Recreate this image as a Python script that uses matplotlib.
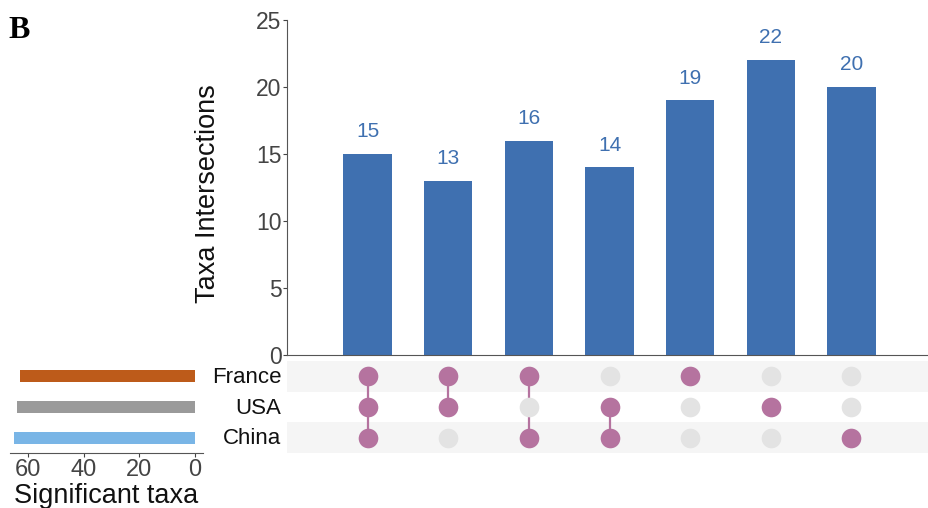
import numpy as np
import matplotlib.pyplot as plt

plt.rcParams['font.family'] = ['Liberation Sans', 'DejaVu Sans']

# data
sets = ["France", "USA", "China"]
set_sizes = [63, 64, 65]
set_colors = ["#bd5b1a", "#9a9a9a", "#79b5e6"]

counts = [15, 13, 16, 14, 19, 22, 20]
# membership per intersection: France, USA, China
membership = [
    [1, 1, 1],
    [1, 1, 0],
    [1, 0, 1],
    [0, 1, 1],
    [1, 0, 0],
    [0, 1, 0],
    [0, 0, 1],
]

bar_color = "#3f70b0"
dot_on = "#b5739f"
dot_off = "#e3e3e3"
axis_gray = "#555555"
W, H = 929, 508

fig = plt.figure(figsize=(9.29, 5.08), dpi=100)


def box(x0, y0, x1, y1):
    return [x0 / W, 1 - y1 / H, (x1 - x0) / W, (y1 - y0) / H]


n = len(counts)
xs = np.arange(n)

# intersection bars
ax = fig.add_axes(box(287, 20, 932, 355))
ax.bar(xs, counts, width=0.6, color=bar_color)
for x, c in zip(xs, counts):
    ax.text(x, c + 0.95, str(c), ha="center", va="bottom", fontsize=15,
            color=bar_color)
ax.set_xlim(-1, n)
ax.set_ylim(0, 25)
ax.set_yticks([0, 5, 10, 15, 20, 25])
ax.set_xticks([])
ax.tick_params(axis="y", labelsize=16.5, colors="#444444", length=3,
               width=0.8, pad=1)
for s in ["top", "right"]:
    ax.spines[s].set_visible(False)
for s in ["left", "bottom"]:
    ax.spines[s].set_color(axis_gray)
    ax.spines[s].set_linewidth(0.8)
ax.set_ylabel("Taxa Intersections", fontsize=19.5, color="#111111")
ax.yaxis.set_label_coords((221 - 287) / (932 - 287), 1 - (194 - 20) / 335)

# matrix
mx = fig.add_axes(box(287, 361, 932, 453))
rows = len(sets)
ys = [rows - 1 - i for i in range(rows)]  # France on top
for i, y in enumerate(ys):
    if i % 2 == 0:
        mx.axhspan(y - 0.5, y + 0.5, color="#f5f5f5", zorder=0, lw=0)
for j, m in enumerate(membership):
    act = [ys[i] for i in range(rows) if m[i]]
    if len(act) > 1:
        mx.plot([j, j], [min(act), max(act)], color=dot_on, lw=1.6, zorder=1)
    for i in range(rows):
        mx.scatter(j, ys[i], s=200, color=dot_on if m[i] else dot_off,
                   zorder=2, lw=0)
mx.set_xlim(-1, n)
mx.set_ylim(-0.5, rows - 0.5)
mx.set_xticks([])
mx.set_yticks([])
for s in mx.spines.values():
    s.set_visible(False)
for i, y in enumerate(ys):
    mx.text(-1.07, y - 0.04, sets[i], ha="right", va="center", fontsize=16,
            color="#111111")

# set sizes
sx = fig.add_axes(box(10, 361, 203, 453))
sx.barh(ys, set_sizes, height=0.4, color=set_colors)
sx.set_ylim(-0.5, rows - 0.5)
sx.set_xlim(66.5, -2.9)
sx.set_xticks([60, 40, 20, 0])
sx.set_yticks([])
sx.tick_params(axis="x", labelsize=17, colors="#444444", length=3, width=0.8,
               pad=1)
for s in ["top", "right", "left"]:
    sx.spines[s].set_visible(False)
sx.spines["bottom"].set_color(axis_gray)
sx.spines["bottom"].set_linewidth(0.8)
sx.set_xlabel("Significant taxa", fontsize=19.5, labelpad=2, color="#111111")

fig.text(8 / W, 1 - 38 / H, "B", fontsize=23, fontweight="bold",
         family="Liberation Serif")

fig.savefig("out.png", dpi=100)
